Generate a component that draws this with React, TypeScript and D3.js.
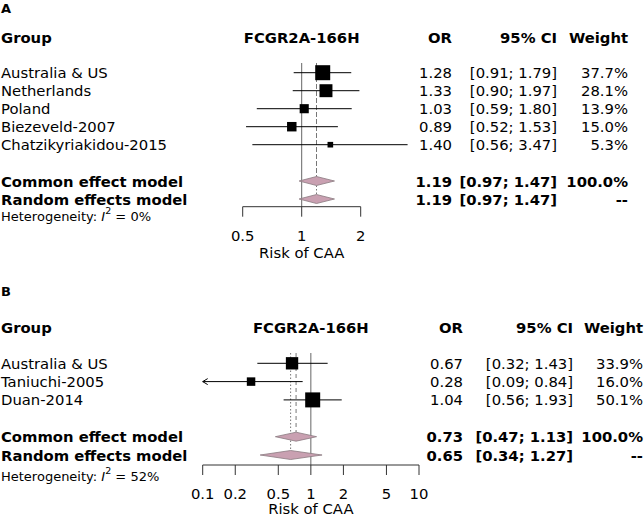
import React from "react";
import * as d3 from "d3";

// ---- Panel A data ----
const studiesA = ["Australia & US", "Netherlands", "Poland", "Biezeveld-2007", "Chatzikyriakidou-2015"];
const orA = [1.28, 1.33, 1.03, 0.89, 1.4];
const lowerA = [0.91, 0.9, 0.59, 0.52, 0.56];
const upperA = [1.79, 1.97, 1.8, 1.53, 3.47];
const weightA = [37.7, 28.1, 13.9, 15.0, 5.3];
const pooledA = [1.19, 1.19]; // common, random
const pooledLowerA = [0.97, 0.97];
const pooledUpperA = [1.47, 1.47];
const pooledWeightA = ["100.0%", "--"];
const i2A = "0%";
const ticksA = [0.5, 1, 2];
const clipA = [0.25, 4];

// ---- Panel B data ----
const studiesB = ["Australia & US", "Taniuchi-2005", "Duan-2014"];
const orB = [0.67, 0.28, 1.04];
const lowerB = [0.32, 0.09, 0.56];
const upperB = [1.43, 0.84, 1.93];
const weightB = [33.9, 16.0, 50.1];
const pooledB = [0.73, 0.65];
const pooledLowerB = [0.47, 0.34];
const pooledUpperB = [1.13, 1.27];
const pooledWeightB = ["100.0%", "--"];
const i2B = "52%";
const ticksB = [0.1, 0.2, 0.5, 1, 2, 5, 10];
const clipB = [0.1, 10];

const modelLabels = ["Common effect model", "Random effects model"];
const FONT = "DejaVu Sans, Verdana, sans-serif";
const DIAMOND = "#c9a0b1";

type PanelProps = {
  letter: string;
  letterY: number;
  headerY: number;
  rowY0: number;
  rowStep: number;
  modelY: number[];
  hetY: number;
  axisY: number;
  tickLabelY: number;
  xlabY: number;
  xRange: [number, number];
  domain: [number, number];
  clip: number[];
  ticks: number[];
  colOR: number;
  colCI: number;
  colW: number;
  studies: string[];
  or: number[];
  lo: number[];
  hi: number[];
  w: number[];
  pooled: number[];
  pLo: number[];
  pHi: number[];
  pW: string[];
  i2: string;
  refTop: number;
};

const fmt = d3.format(".2f");

function Panel(p: PanelProps) {
  const x = d3.scaleLog().domain(p.domain).range(p.xRange);
  const size = d3.scaleSqrt().domain([0, d3.max(p.w) as number]).range([0, 15]);
  const [d0, d1] = p.domain;
  const [c0, c1] = p.clip;
  const rowY = (i: number) => p.rowY0 + i * p.rowStep;
  const titleX = x(1);
  const fs = 14.8;
  const diamondH = 4.5;
  return (
    <g fontFamily={FONT}>
      <text x={1} y={p.letterY} fontSize={13} fontWeight="bold" dominantBaseline="central">
        {p.letter}
      </text>
      {/* header */}
      <text x={1} y={p.headerY} fontSize={fs} fontWeight="bold" dominantBaseline="central">Group</text>
      <text x={titleX} y={p.headerY} fontSize={fs} fontWeight="bold" textAnchor="middle" dominantBaseline="central">FCGR2A-166H</text>
      <text x={p.colOR} y={p.headerY} fontSize={fs} fontWeight="bold" textAnchor="end" dominantBaseline="central">OR</text>
      <text x={p.colCI} y={p.headerY} fontSize={fs} fontWeight="bold" textAnchor="end" dominantBaseline="central">95% CI</text>
      <text x={p.colW} y={p.headerY} fontSize={fs} fontWeight="bold" textAnchor="end" dominantBaseline="central">Weight</text>

      {/* reference line at 1 */}
      <line x1={x(1)} x2={x(1)} y1={p.refTop} y2={p.axisY} stroke="#666" strokeWidth={1} />
      {/* common effect (dashed) */}
      <line x1={x(p.pooled[0])} x2={x(p.pooled[0])} y1={p.refTop} y2={p.modelY[0] - diamondH} stroke="#777" strokeWidth={1} strokeDasharray="4,3" />
      {/* random effects (dotted) */}
      <line x1={x(p.pooled[1])} x2={x(p.pooled[1])} y1={p.refTop} y2={p.modelY[1] - diamondH} stroke="#777" strokeWidth={1} strokeDasharray="1.5,2" />

      {/* studies */}
      {p.studies.map((s, i) => {
        const y = rowY(i);
        const lo = Math.max(p.lo[i], c0);
        const hi = Math.min(p.hi[i], c1);
        const sz = size(p.w[i]);
        return (
          <g key={s}>
            <text x={1} y={y} fontSize={fs} dominantBaseline="central">{s}</text>
            <line x1={x(lo)} x2={x(hi)} y1={y} y2={y} stroke="#000" strokeWidth={1} />
            {p.lo[i] < c0 && (
              <path d={`M${x(c0) + 5},${y - 3} L${x(c0)},${y} L${x(c0) + 5},${y + 3}`} fill="none" stroke="#000" strokeWidth={1} />
            )}
            {p.hi[i] > c1 && (
              <path d={`M${x(c1) - 5},${y - 3} L${x(c1)},${y} L${x(c1) - 5},${y + 3}`} fill="none" stroke="#000" strokeWidth={1} />
            )}
            <rect x={x(p.or[i]) - sz / 2} y={y - sz / 2} width={sz} height={sz} fill="#000" />
            <text x={p.colOR} y={y} fontSize={fs} textAnchor="end" dominantBaseline="central">{fmt(p.or[i])}</text>
            <text x={p.colCI} y={y} fontSize={fs} textAnchor="end" dominantBaseline="central">{`[${fmt(p.lo[i])}; ${fmt(p.hi[i])}]`}</text>
            <text x={p.colW} y={y} fontSize={fs} textAnchor="end" dominantBaseline="central">{`${p.w[i].toFixed(1)}%`}</text>
          </g>
        );
      })}

      {/* pooled */}
      {modelLabels.map((m, k) => {
        const y = p.modelY[k];
        const xl = x(p.pLo[k]);
        const xr = x(p.pHi[k]);
        const xc = x(p.pooled[k]);
        return (
          <g key={m}>
            <text x={1} y={y} fontSize={fs} fontWeight="bold" dominantBaseline="central">{m}</text>
            <path d={`M${xl},${y} L${xc},${y - diamondH} L${xr},${y} L${xc},${y + diamondH} Z`} fill={DIAMOND} stroke="#8a7a80" strokeWidth={0.8} />
            <text x={p.colOR} y={y} fontSize={fs} fontWeight="bold" textAnchor="end" dominantBaseline="central">{fmt(p.pooled[k])}</text>
            <text x={p.colCI} y={y} fontSize={fs} fontWeight="bold" textAnchor="end" dominantBaseline="central">{`[${fmt(p.pLo[k])}; ${fmt(p.pHi[k])}]`}</text>
            <text x={p.colW} y={y} fontSize={fs} fontWeight="bold" textAnchor="end" dominantBaseline="central">{p.pW[k]}</text>
          </g>
        );
      })}

      <text x={1} y={p.hetY} fontSize={13} dominantBaseline="central">
        Heterogeneity: <tspan fontStyle="italic">I</tspan>
        <tspan fontSize={9.5} dy={-6}>2</tspan>
        <tspan dy={6}>{` = ${p.i2}`}</tspan>
      </text>

      {/* axis */}
      <line x1={x(d0)} x2={x(d1)} y1={p.axisY} y2={p.axisY} stroke="#333" strokeWidth={1} />
      {p.ticks.map((t) => (
        <g key={t}>
          <line x1={x(t)} x2={x(t)} y1={p.axisY} y2={p.axisY + 10} stroke="#333" strokeWidth={1} />
          <text x={x(t)} y={p.tickLabelY} fontSize={fs} textAnchor="middle" dominantBaseline="central">{String(t)}</text>
        </g>
      ))}
      <text x={x(1)} y={p.xlabY} fontSize={fs} textAnchor="middle" dominantBaseline="central">Risk of CAA</text>
    </g>
  );
}

export default function App() {
  return (
    <svg width={644} height={516} style={{ position: "absolute", left: 0, top: 0, background: "#fff" }}>
      <rect width={644} height={516} fill="#fff" />
      <Panel
        letter="A" letterY={8} headerY={37} rowY0={72.7} rowStep={18} modelY={[181, 199]} hetY={216}
        axisY={206.7} tickLabelY={235} xlabY={252} xRange={[242.7, 360.7]} domain={[0.5, 2]} clip={clipA} ticks={ticksA}
        colOR={452} colCI={557} colW={628}
        studies={studiesA} or={orA} lo={lowerA} hi={upperA} w={weightA}
        pooled={pooledA} pLo={pooledLowerA} pHi={pooledUpperA} pW={pooledWeightA} i2={i2A} refTop={63}
      />
      <Panel
        letter="B" letterY={291} headerY={327} rowY0={363.3} rowStep={18.3} modelY={[436.7, 455]} hetY={476}
        axisY={465} tickLabelY={493} xlabY={508.5} xRange={[202.7, 419]} domain={[0.1, 10]} clip={clipB} ticks={ticksB}
        colOR={463} colCI={573} colW={643}
        studies={studiesB} or={orB} lo={lowerB} hi={upperB} w={weightB}
        pooled={pooledB} pLo={pooledLowerB} pHi={pooledUpperB} pW={pooledWeightB} i2={i2B} refTop={353}
      />
    </svg>
  );
}
